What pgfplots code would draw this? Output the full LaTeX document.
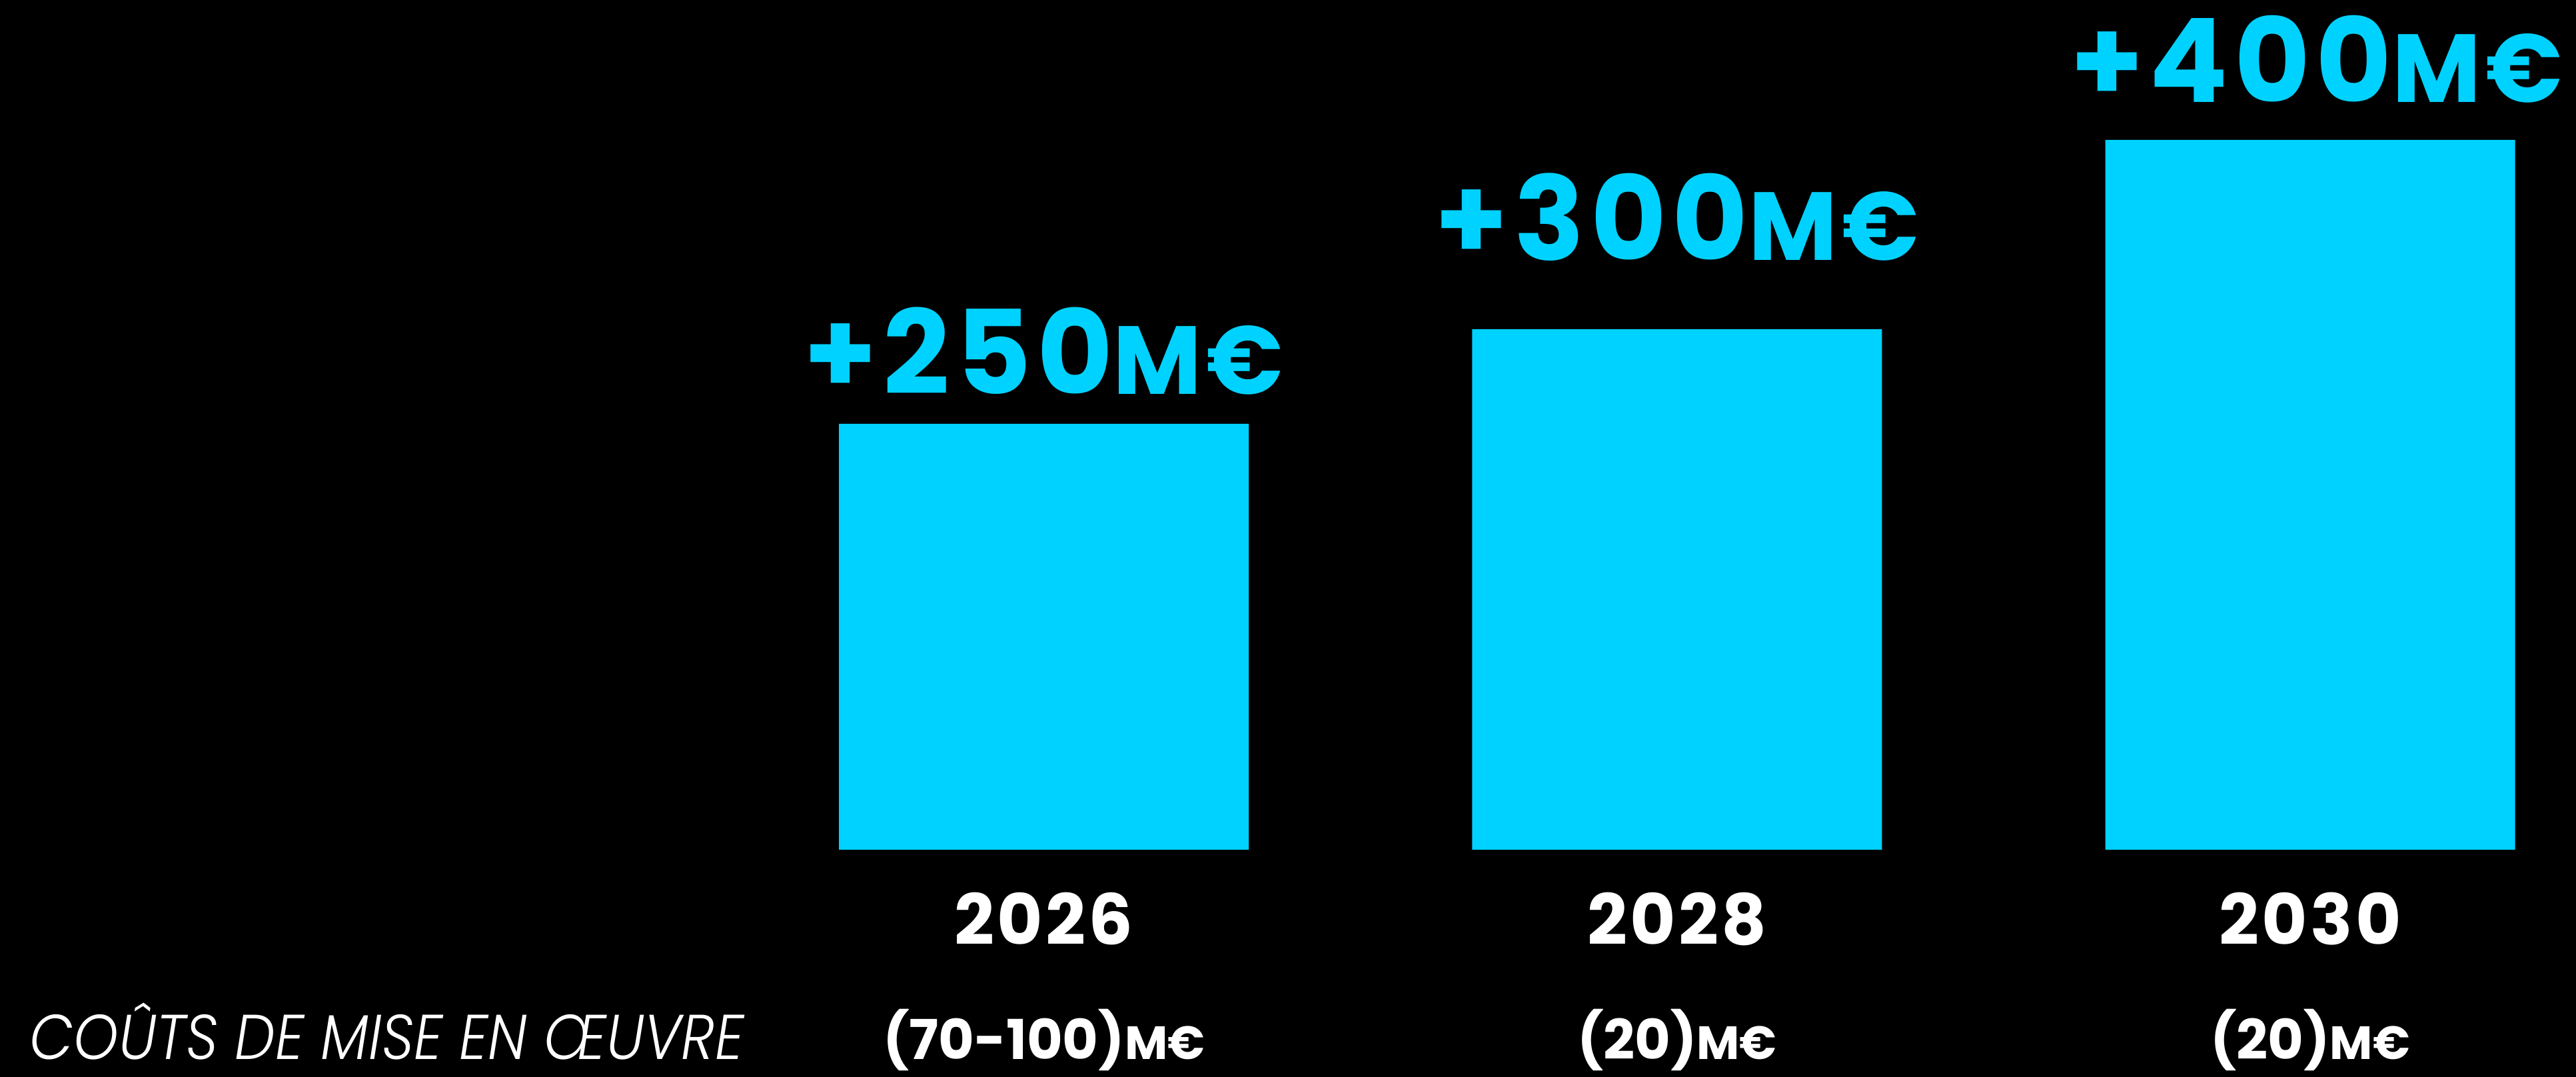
\documentclass[border=0pt]{standalone}
\usepackage{pgfplots}
\pgfplotsset{compat=1.18}
\usepackage{fontspec}
\setmainfont{Poppins}
\newfontfamily\lightfont{Poppins}[UprightFont=* Light, ItalicFont=* Light Italic]
\definecolor{barcyan}{HTML}{00D2FF}
\newcommand\gain[1]{{\fontsize{35}{35}\selectfont\bfseries\addfontfeature{LetterSpace=5}+#1{\fontsize{29}{29}\selectfont M€}}}
\newcommand\cost[1]{{\fontsize{16.5}{16.5}\selectfont\bfseries (#1){\fontsize{14}{14}\selectfont M€}}}
\begin{document}
\begin{tikzpicture}
\fill[black] (0,0) rectangle (773.2pt,323.2pt);
\useasboundingbox (0,0) rectangle (773.2pt,323.2pt);
\begin{axis}[
  at={(227.78pt,68.2pt)}, anchor=south west,
  x=190.05pt, y=0.568pt,
  xmin=-0.45, xmax=2.4, ymin=25, ymax=450,
  hide y axis,
  axis line style={draw=none},
  tick style={draw=none},
  major tick length=0pt,
  xtick={0,1,2}, xticklabels={2026,2028,2030},
  xticklabel style={anchor=base, yshift=-28.6pt, text=white,
    font=\fontsize{21}{21}\selectfont\bfseries\addfontfeature{LetterSpace=4}},
  ybar, bar width=123pt,
  clip=false,
]
\addplot[fill=barcyan, draw=none] coordinates {(0,250) (1,300) (2,400)};

% value labels above the bars
\node[anchor=base, text=barcyan] at (axis cs:0,265.5) {\gain{250}};
\node[anchor=base, text=barcyan] at (axis cs:1,336.6) {\gain{300}};
\node[anchor=base, text=barcyan] at (axis cs:2.01,420) {\gain{400}};

% implementation costs row
\node[anchor=base, text=white] at (axis cs:0,-85.8) {\cost{70-100}};
\node[anchor=base, text=white] at (axis cs:1,-85.8) {\cost{20}};
\node[anchor=base, text=white] at (axis cs:2,-85.8) {\cost{20}};
\end{axis}
\node[anchor=base west, text=white, inner sep=0pt] at (8.8pt,5.2pt)
  {\scalebox{0.9}[1]{\fontsize{19}{19}\selectfont\lightfont\itshape COÛTS DE MISE EN ŒUVRE}};
\end{tikzpicture}
\end{document}
